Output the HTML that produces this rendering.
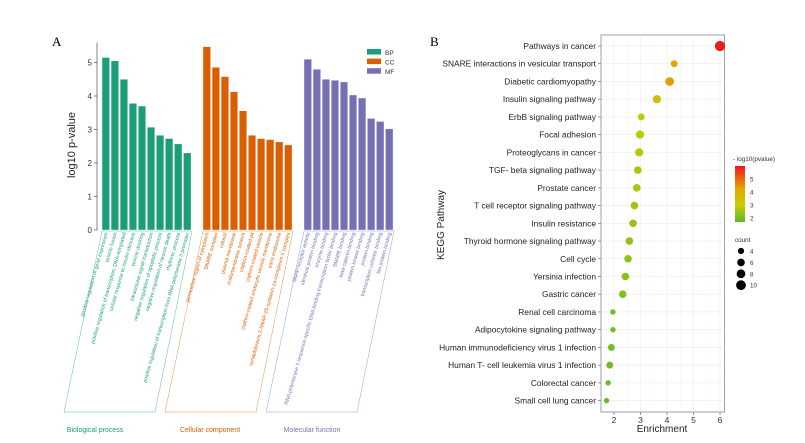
<!DOCTYPE html>
<html><head><meta charset="utf-8"><style>
body{margin:0;background:#fff;}
svg{display:block;font-family:"Liberation Sans",Arial,sans-serif;}
</style></head><body>
<svg id="c" width="805" height="443" viewBox="0 0 805 443">
<text x="52" y="46" font-family="Liberation Serif" font-size="13">A</text>
<text x="430" y="46" font-family="Liberation Serif" font-size="13">B</text>
<g id="A"></g><g id="B"></g>
</svg>
<script>
const goCats=["BP","CC","MF"];
const bpTerms=["positive regulation of gene expression","vesicle fusion","positive regulation of transcription, DNA-templated","cellular response to insulin stimulus","vesicle docking","intracellular signal transduction","negative regulation of apoptotic process","negative regulation of neuron death","rhythmic process","positive regulation of transcription from RNA polymerase II promoter"];
const bpVals=[5.15,5.05,4.5,3.78,3.7,3.07,2.83,2.73,2.57,2.3];
const ccTerms=["perinuclear region of cytoplasm","SNARE complex","cytosol","plasma membrane","endomembrane system","clathrin-coated pit","clathrin-coated vesicle","clathrin-coated endocytic vesicle membrane","early endosome","synaptobrevin 2-SNAP-25-syntaxin-1a-complexin II complex"];
const ccVals=[5.47,4.86,4.58,4.13,3.56,2.83,2.73,2.7,2.63,2.54];
const mfTerms=["SNAP receptor activity","identical protein binding","enzyme binding","RNA polymerase II sequence-specific DNA binding transcription factor binding","SNARE binding","beta-catenin binding","protein kinase binding","protein binding","transcription cofactor binding","tau protein binding"];
const mfVals=[5.1,4.8,4.5,4.47,4.42,4.03,3.94,3.33,3.24,3.02];
const yTicks=[0,1,2,3,4,5];

const keggTerms=["Pathways in cancer","SNARE interactions in vesicular transport","Diabetic cardiomyopathy","Insulin signaling pathway","ErbB signaling pathway","Focal adhesion","Proteoglycans in cancer","TGF- beta signaling pathway","Prostate cancer","T cell receptor signaling pathway","Insulin resistance","Thyroid hormone signaling pathway","Cell cycle","Yersinia infection","Gastric cancer","Renal cell carcinoma","Adipocytokine signaling pathway","Human immunodeficiency virus 1 infection","Human T- cell leukemia virus 1 infection","Colorectal cancer","Small cell lung cancer"];
const keggEnrich=[6.0,4.27,4.1,3.62,3.03,2.98,2.95,2.9,2.86,2.77,2.72,2.58,2.53,2.43,2.33,1.96,1.96,1.9,1.84,1.78,1.72];
const keggCount=[11,5,8,7,5,7,7,6,6,6,6,6,6,6,6,3,3,5,5,3,3];
const keggLogP=[5.8,4.0,4.1,3.4,2.9,2.8,2.8,2.6,2.6,2.5,2.4,2.3,2.3,2.2,2.1,1.9,1.9,1.9,1.9,1.8,1.8];
const xTicks=[2,3,4,5,6];
const colorTicks=[2,3,4,5];
const countTicks=[4,6,8,10];

const NS="http://www.w3.org/2000/svg";
function mk(p,t,a,txt){const e=document.createElementNS(NS,t);for(const k in a)e.setAttribute(k,a[k]);if(txt!==undefined)e.textContent=txt;p.appendChild(e);return e;}
const A=document.getElementById('A'),B=document.getElementById('B');
const y0=230,ppu=33.5;const yA=v=>y0-v*ppu;
const axA=mk(A,'line',{x1:97,y1:yA(5.6),x2:97,y2:y0,stroke:'#333','stroke-width':0.6});

yTicks.forEach(t=>{mk(A,'line',{x1:94,x2:97,y1:yA(t),y2:yA(t),stroke:'#333','stroke-width':0.6});
 const l=mk(A,'text',{x:92,y:yA(t)+3,'font-size':8,'text-anchor':'end',fill:'#333'},t);
 });
const yt=mk(A,'text',{x:0,y:0,'font-size':11,'text-anchor':'middle',transform:'translate(75,145) rotate(-90)',fill:'#222'},'log10 p-value');

const groups=[{t:bpTerms,v:bpVals,x:102,c:'#1b9e77',n:'Biological process',lx:95},{t:ccTerms,v:ccVals,x:203,c:'#d95f02',n:'Cellular component',lx:210},{t:mfTerms,v:mfVals,x:304,c:'#7570b3',n:'Molecular function',lx:312}];
const pitch=9.05,bw=7.6;
groups.forEach((g,gi)=>{
 g.v.forEach((v,i)=>{const x=g.x+i*pitch;
  const r=mk(A,'rect',{x:x,y:yA(v),width:bw,height:y0-yA(v),fill:g.c,stroke:'#fff','stroke-width':0.4});
  
  const cx=x+bw/2;
  const tl=mk(A,'text',{x:0,y:0,'font-size':5.2,'text-anchor':'end',fill:g.c,transform:`translate(${cx+2},${y0+3}) rotate(-74)`},g.t[i]);
  
 });
 const x1=g.x,x2=g.x+90;
 const pg=mk(A,'polygon',{points:`${x1},${y0+1} ${x2},${y0+1} ${x2-37},412 ${x1-38},412`,fill:'none',stroke:g.c,'stroke-width':0.5,opacity:0.7});
 
 const cl=mk(A,'text',{x:g.lx,y:432,'font-size':7,'text-anchor':'middle',fill:g.c},g.n);
 
 const ls=mk(A,'rect',{x:367,y:49+gi*9.6,width:14,height:5.5,fill:g.c});
 
 const lt=mk(A,'text',{x:385,y:55+gi*9.6,'font-size':6.5,fill:'#333'},goCats[gi]);
 
});
const bx0=601,bx1=724.5,by0=35,by1=412;
const xB=v=>614+(v-2)*26.5;
const rowY=i=>46+i*17.73;
const fr=mk(B,'rect',{x:bx0,y:by0,width:bx1-bx0,height:by1-by0,fill:'#fff',stroke:'#888','stroke-width':0.8});

for(let v=1.5;v<=6.5;v+=0.5){const x=xB(v);if(x>bx0&&x<bx1)mk(B,'line',{x1:x,x2:x,y1:by0,y2:by1,stroke:'#ebebeb','stroke-width':Number.isInteger(v)?0.6:0.3});}
keggTerms.forEach((t,i)=>{const y=rowY(i);
 mk(B,'line',{x1:bx0,x2:bx1,y1:y,y2:y,stroke:'#ebebeb','stroke-width':0.6});
 mk(B,'line',{x1:bx0-3,x2:bx0,y1:y,y2:y,stroke:'#555','stroke-width':0.6});
 const l=mk(B,'text',{x:596,y:y+3,'font-size':8.4,'text-anchor':'end',fill:'#222'},t);
 });
xTicks.forEach(t=>{mk(B,'line',{x1:xB(t),x2:xB(t),y1:by1,y2:by1+3,stroke:'#555','stroke-width':0.6});
 const l=mk(B,'text',{x:xB(t),y:by1+11,'font-size':8.5,'text-anchor':'middle',fill:'#333'},t);
 });
const xt=mk(B,'text',{x:662,y:432,'font-size':10,'text-anchor':'middle',fill:'#222'},'Enrichment');

const kt=mk(B,'text',{x:0,y:0,'font-size':10,'text-anchor':'middle',transform:'translate(444,225) rotate(-90)',fill:'#222'},'KEGG Pathway');

function col(p){const stops=[[1.6,[90,185,45]],[3,[200,205,0]],[4,[228,165,0]],[5.9,[240,20,30]]];
 if(p<=stops[0][0])return `rgb(${stops[0][1]})`;
 for(let i=1;i<stops.length;i++){if(p<=stops[i][0]){const [a,ca]=stops[i-1],[b,cb]=stops[i];const f=(p-a)/(b-a);return `rgb(${ca.map((c,k)=>Math.round(c+(cb[k]-c)*f))})`;}}
 return `rgb(${stops[3][1]})`;}
const rad=c=>Math.sqrt(c)*1.55;
keggEnrich.forEach((e,i)=>{const d=mk(B,'circle',{cx:xB(e),cy:rowY(i),r:rad(keggCount[i]),fill:col(keggLogP[i])});
 });
const ct=mk(B,'text',{x:733,y:161,'font-size':6.3,fill:'#333'},'- log10(pvalue)');

const defs=mk(B,'defs',{});const lg=mk(defs,'linearGradient',{id:'g',x1:0,y1:1,x2:0,y2:0});
[[0,'rgb(90,185,45)'],[0.3,'rgb(200,205,0)'],[0.6,'rgb(228,165,0)'],[1,'rgb(240,20,30)']].forEach(s=>mk(lg,'stop',{offset:s[0],'stop-color':s[1]}));
const cb=mk(B,'rect',{x:735,y:166,width:10,height:56,fill:'url(#g)'});

const cy=v=>218-(v-2)*13;
colorTicks.forEach(t=>{const l=mk(B,'text',{x:750,y:cy(t)+2.5,'font-size':6.3,fill:'#333'},t);
 });
const st=mk(B,'text',{x:735,y:242,'font-size':6.3,fill:'#333'},'count');

countTicks.forEach((c,i)=>{const y=251+i*11.4;
 const d=mk(B,'circle',{cx:741,cy:y,r:rad(c),fill:'#000'});
 
 const l=mk(B,'text',{x:750,y:y+2.5,'font-size':6.3,fill:'#333'},c);
 });
</script>
</body></html>
